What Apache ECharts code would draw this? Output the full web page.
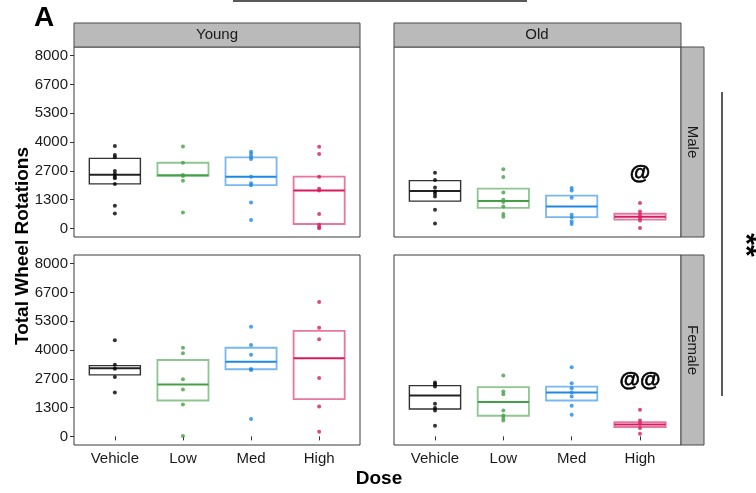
<!DOCTYPE html>
<html>
<head>
<meta charset="utf-8">
<script src="https://cdn.jsdelivr.net/npm/echarts@6/dist/echarts.min.js"></script>
<style>html,body{margin:0;padding:0;background:#fff}#c{width:756px;height:493px}</style>
</head>
<body>
<div id="c"></div>
<script>
// ---- data ----
const doses = ['Vehicle', 'Low', 'Med', 'High'];
const doseColors = ['#000000', '#43A047', '#1E88E5', '#D81B60'];
const ageLabels = ['Young', 'Old'];
const sexLabels = ['Male', 'Female'];
const yTickValues = [0, 1333.33, 2666.67, 4000, 5333.33, 6666.67, 8000];
const yTickLabels = ['0', '1300', '2700', '4000', '5300', '6700', '8000'];

// individual animals (points)
const youngMaleVehicle = [3810, 3395, 3288, 2658, 2520, 2395, 2320, 2059, 1046, 691];
const youngMaleLow = [3795, 3040, 2473, 2427, 2211, 737];
const youngMaleMed = [3547, 3440, 3317, 3210, 2395, 2090, 1999, 1198, 387];
const youngMaleHigh = [3777, 3440, 2395, 1829, 1750, 663, 170, 64, 0];
const oldMaleVehicle = [2579, 2243, 1889, 1704, 1598, 1474, 861, 230];
const oldMaleLow = [2736, 2381, 1658, 1322, 1216, 1013, 663, 539];
const oldMaleMed = [1875, 1750, 1414, 631, 507, 322, 203];
const oldMaleHigh = [1170, 783, 631, 479, 369, 18];
const youngFemaleVehicle = [4446, 3321, 3137, 2754, 2030];
const youngFemaleLow = [4105, 3847, 2648, 2168, 1476, 18];
const youngFemaleMed = [5074, 4230, 3782, 3123, 3077, 803];
const youngFemaleHigh = [6227, 5028, 4493, 2708, 1384, 217];
const oldFemaleVehicle = [2491, 2417, 2306, 1508, 1310, 1199, 494];
const oldFemaleLow = [2814, 2076, 1956, 1199, 969, 849, 738];
const oldFemaleMed = [3201, 2463, 2232, 2030, 1845, 1416, 1001];
const oldFemaleHigh = [1232, 738, 586, 387, 125];

// boxes: [lower, middle, upper] per dose
const youngMaleBoxes = [[2059, 2488, 3243], [2427, 2460, 3040], [1999, 2395, 3288], [203, 1750, 2395]];
const oldMaleBoxes = [[1262, 1736, 2211], [953, 1262, 1842], [525, 1013, 1520], [401, 539, 677]];
const youngFemaleBoxes = [[2846, 3155, 3275], [1661, 2398, 3538], [3109, 3459, 4105], [1725, 3616, 4889]];
const oldFemaleBoxes = [[1264, 1891, 2352], [955, 1587, 2279], [1661, 2030, 2306], [434, 554, 664]];

// significance annotations
const annPanels = [1, 3];
const annDoses = ['High', 'High'];
const annTexts = ['@', '@@'];
const annValues = [2550, 2615];

// ---- build chart ----
const panels = [
  { pts: [youngMaleVehicle, youngMaleLow, youngMaleMed, youngMaleHigh], boxes: youngMaleBoxes },
  { pts: [oldMaleVehicle, oldMaleLow, oldMaleMed, oldMaleHigh], boxes: oldMaleBoxes },
  { pts: [youngFemaleVehicle, youngFemaleLow, youngFemaleMed, youngFemaleHigh], boxes: youngFemaleBoxes },
  { pts: [oldFemaleVehicle, oldFemaleLow, oldFemaleMed, oldFemaleHigh], boxes: oldFemaleBoxes }
];
const FONT = 'Liberation Sans, Arial, sans-serif';
const gridPos = [
  { left: 74, top: 47, width: 286, height: 190 },
  { left: 394, top: 47, width: 287, height: 190 },
  { left: 74, top: 255, width: 286, height: 190 },
  { left: 394, top: 255, width: 287, height: 190 }
];
const grids = gridPos.map(g => Object.assign({ show: true, borderColor: '#3a3a3a', borderWidth: 1, backgroundColor: '#fff' }, g));
const xAxes = gridPos.map((g, i) => ({
  type: 'value', gridIndex: i, min: 0.4, max: 4.6,
  splitLine: { show: false }, axisLine: { show: false },
  axisTick: { show: i >= 2, length: 4, lineStyle: { color: '#333' }, customValues: [1, 2, 3, 4] },
  axisLabel: { show: i >= 2, customValues: [1, 2, 3, 4], margin: 6, color: '#1a1a1a', fontSize: 15, fontFamily: FONT,
    formatter: v => doses[Math.round(v) - 1] || '' }
}));
const yAxes = gridPos.map((g, i) => ({
  type: 'value', gridIndex: i, min: -400, max: 8400,
  splitLine: { show: false }, axisLine: { show: false },
  axisTick: { show: i % 2 === 0, length: 4, lineStyle: { color: '#333' }, customValues: yTickValues },
  axisLabel: { show: i % 2 === 0, customValues: yTickValues, margin: 6, color: '#1a1a1a', fontSize: 15, fontFamily: FONT,
    formatter: v => { let k = 0, best = 1e9; yTickValues.forEach((t, j) => { if (Math.abs(t - v) < best) { best = Math.abs(t - v); k = j; } }); return yTickLabels[k]; } }
}));

const series = [];
panels.forEach((p, i) => {
  const boxData = p.boxes.map((b, d) => [d + 1, b[0], b[1], b[2], d]);
  series.push({
    type: 'custom', xAxisIndex: i, yAxisIndex: i, z: 2, data: boxData, silent: true,
    renderItem: (params, api) => {
      const x = api.value(0), lo = api.value(1), mid = api.value(2), hi = api.value(3), d = api.value(4);
      const tl = api.coord([x - 0.375, hi]);
      const br = api.coord([x + 0.375, lo]);
      const ml = api.coord([x - 0.375, mid]);
      const mr = api.coord([x + 0.375, mid]);
      const col = doseColors[d];
      const black = d === 0;
      return {
        type: 'group',
        children: [
          { type: 'rect', shape: { x: tl[0], y: tl[1], width: br[0] - tl[0], height: br[1] - tl[1] },
            style: { fill: 'none', stroke: black ? '#333' : col, lineWidth: black ? 1.4 : 1.8, opacity: black ? 1 : 0.6 } },
          { type: 'line', shape: { x1: ml[0], y1: ml[1], x2: mr[0], y2: mr[1] },
            style: { stroke: black ? '#222' : col, lineWidth: 2 } }
        ]
      };
    }
  });
  const ptData = [];
  p.pts.forEach((arr, d) => arr.forEach(v => ptData.push({ value: [d + 1, v], itemStyle: { color: doseColors[d] } })));
  series.push({
    type: 'scatter', xAxisIndex: i, yAxisIndex: i, z: 3, symbolSize: 4, data: ptData, silent: true
  });
});
// annotations drawn as text marks at data coordinates
annPanels.forEach((pi, k) => {
  series.push({
    type: 'custom', xAxisIndex: pi, yAxisIndex: pi, z: 4, silent: true,
    data: [[doses.indexOf(annDoses[k]) + 1, annValues[k]]],
    renderItem: (params, api) => {
      const c = api.coord([api.value(0), api.value(1)]);
      return { type: 'text', x: c[0], y: c[1],
        style: { text: annTexts[k], fill: '#000', fontSize: 21, fontWeight: 'bold', fontFamily: FONT,
          align: 'center', verticalAlign: 'middle', stroke: '#000', lineWidth: 0.6 } };
    }
  });
});

const stripStyle = { fill: '#bababa', stroke: '#4a4a4a', lineWidth: 1 };
const txt = (x, y, text, size, extra) => Object.assign({
  type: 'text', x: x, y: y,
  style: { text: text, fontSize: size, fontFamily: FONT, fill: '#1a1a1a', align: 'center', verticalAlign: 'middle' }
}, extra || {});
const graphic = [
  { type: 'rect', shape: { x: 74, y: 23, width: 286, height: 24 }, style: stripStyle, z: 10 },
  { type: 'rect', shape: { x: 394, y: 23, width: 287, height: 24 }, style: stripStyle, z: 10 },
  { type: 'rect', shape: { x: 681, y: 47, width: 23, height: 190 }, style: stripStyle, z: 10 },
  { type: 'rect', shape: { x: 681, y: 255, width: 23, height: 190 }, style: stripStyle, z: 10 },
  Object.assign(txt(217, 35, ageLabels[0], 15), { z: 11 }),
  Object.assign(txt(537, 35, ageLabels[1], 15), { z: 11 }),
  Object.assign(txt(692.5, 142, sexLabels[0], 15, { rotation: -Math.PI / 2 }), { z: 11 }),
  Object.assign(txt(692.5, 350, sexLabels[1], 15, { rotation: -Math.PI / 2 }), { z: 11 }),
  { type: 'line', shape: { x1: 233, y1: 1, x2: 527, y2: 1 }, style: { stroke: '#222', lineWidth: 1.5 }, z: 10 },
  { type: 'line', shape: { x1: 722, y1: 92, x2: 722, y2: 396 }, style: { stroke: '#222', lineWidth: 1.5 }, z: 10 },
  { type: 'text', x: 745, y: 245, rotation: -Math.PI / 2, z: 11,
    style: { text: '**', fontSize: 30, fontWeight: 'bold', fontFamily: FONT, fill: '#000', align: 'center', verticalAlign: 'middle' } },
  { type: 'text', x: 44, y: 18, z: 11,
    style: { text: 'A', fontSize: 28, fontWeight: 'bold', fontFamily: FONT, fill: '#000', align: 'center', verticalAlign: 'middle' } },
  { type: 'text', x: 23, y: 246, rotation: Math.PI / 2, z: 11,
    style: { text: 'Total Wheel Rotations', fontSize: 19, fontWeight: 'bold', fontFamily: FONT, fill: '#000', align: 'center', verticalAlign: 'middle' } },
  { type: 'text', x: 379, y: 479, z: 11,
    style: { text: 'Dose', fontSize: 19, fontWeight: 'bold', fontFamily: FONT, fill: '#000', align: 'center', verticalAlign: 'middle' } }
];

const chart = echarts.init(document.getElementById('c'), null, { renderer: 'canvas' });
chart.setOption({
  animation: false,
  backgroundColor: '#fff',
  grid: grids, xAxis: xAxes, yAxis: yAxes, series: series, graphic: graphic
});
</script>
</body>
</html>
